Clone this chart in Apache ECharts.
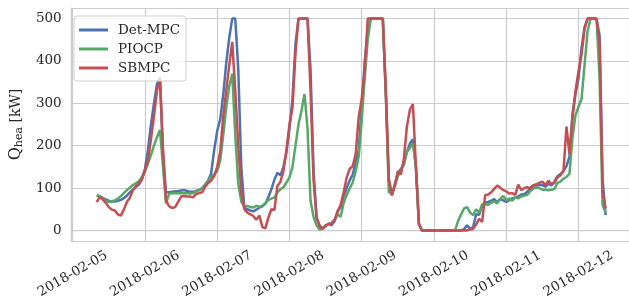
<!DOCTYPE html>
<html>
<head>
<meta charset="utf-8">
<script src="https://cdn.jsdelivr.net/npm/echarts@6/dist/echarts.min.js"></script>
<style>
html, body { margin: 0; padding: 0; background: #fff; }
#chart { width: 629px; height: 305px; }
</style>
</head>
<body>
<div id="chart"></div>
<script>
// hourly samples, the first one is 2018-02-05 08:00
const seriesNames = ['Det-MPC', 'PIOCP', 'SBMPC'];
const seriesColors = ['#4C72B0', '#55A868', '#C44E52'];

const detMpc = [
  83, 80, 77, 73, 70, 68, 68, 70, 72, 76,
  82, 90, 96, 103, 108,
  120, 145, 190, 250, 300, 345, 362, 180, 90,
  90, 91, 92, 93, 94,
  95, 93, 91, 91, 93, 95, 100, 108, 118, 135, 190,
  235, 262, 320, 395, 455, 500, 500, 380, 150, 55,
  50, 47, 45, 49, 54, 57, 63, 79, 97,
  120, 136, 130, 150, 185, 240, 310, 440, 500, 500, 500,
  500, 380, 140, 30, 12, 5, 10, 16, 12, 22,
  45, 55, 80, 100, 118, 132, 160, 190,
  290, 400, 470, 500, 500, 500, 500, 500, 330, 120,
  83, 110, 135, 145, 155, 185, 205, 215, 150, 15,
  0, 0, 0, 0, 0, 0, 0, 0, 0, 0, 0, 0, 0, 0,
  3, 12, 4, 8, 38, 37, 58, 66, 67, 70,
  74, 67, 74, 71, 67, 71, 76, 77, 80, 85, 86, 91, 101, 106, 106,
  107, 107, 103, 110, 106, 115, 128, 133, 140, 152, 174, 275, 322, 360, 430, 480, 500, 500, 500, 498, 460, 120, 36
];

const piocp = [
  83, 81, 75, 70, 67, 69, 71, 75, 81, 88,
  95, 101, 107, 111, 116,
  126, 138, 158, 178, 200, 220, 237, 150, 64,
  86, 88, 88, 88, 88,
  88, 88, 87, 88, 92, 96, 99, 106, 116, 126, 132,
  140, 165, 225, 290, 340, 370, 225, 110, 68, 56,
  58, 55, 54, 58, 56, 58, 64, 72, 75,
  78, 90, 97, 102, 113, 125, 150, 200, 250, 283, 322,
  240, 70, 32, 12, 2, 4, 10, 16, 17, 25,
  38, 32, 65, 83, 99, 113, 140, 175,
  260, 360, 450, 500, 500, 500, 500, 500, 320, 90,
  88, 105, 128, 140, 160, 185, 195, 205, 150, 15,
  0, 0, 0, 0, 0, 0, 0, 0, 0, 0, 0, 0,
  22, 38, 52, 55, 42, 36, 50, 42, 62, 62, 60, 66, 68, 64, 75, 81, 71, 75, 70, 78, 76, 80, 82, 84, 93, 99, 101,
  100, 96, 96, 95, 96, 98, 112, 115, 122, 126, 134, 220, 272, 292, 310, 390, 470, 500, 500, 500, 360, 60, 43
];

const sbmpc = [
  67, 79, 73, 65, 55, 49, 47, 38, 35, 49,
  67, 77, 95, 104, 112,
  122, 142, 165, 215, 270, 330, 355, 190, 71,
  57, 53, 55, 67, 80,
  81, 80, 80, 78, 86, 88, 90, 103, 112, 118, 128,
  150, 185, 270, 330, 390, 445, 330, 200, 90, 50,
  42, 38, 34, 25, 35, 8, 5, 30, 50,
  48, 105, 115, 140, 190, 250, 290, 420, 500, 500, 500,
  500, 330, 120, 30, 10, 4, 12, 15, 16, 25,
  45, 60, 90, 125, 145, 152, 180, 268,
  310, 380, 500, 500, 500, 500, 500, 500, 330, 120,
  83, 105, 140, 132, 170, 245, 285, 298, 150, 15,
  0, 0, 0, 0, 0, 0, 0, 0, 0, 0, 0, 0, 0, 0, 0, 0,
  2, 4, 14, 27, 20, 83, 85, 90, 98, 106, 101, 95, 92, 87, 88, 84, 108, 95, 100, 102, 98, 106, 109,
  112, 115, 107, 117, 110, 112, 125, 130, 140, 245, 180, 265, 330, 375, 415, 475, 500, 500, 500, 500, 440, 90, 52
];

const yTicks = [0, 100, 200, 300, 400, 500];

const startTime = new Date(2018, 1, 5, 8).getTime();
const hour = 3600 * 1000;
const toPoints = vals => vals.map((v, i) => [startTime + i * hour, v]);

const font = 'DejaVu Serif';
const textColor = '#262626';
const gridColor = '#cccccc';

function pad(n) { return n < 10 ? '0' + n : '' + n; }
function dayLabel(v) {
  const d = new Date(v);
  return d.getFullYear() + '-' + pad(d.getMonth() + 1) + '-' + pad(d.getDate());
}

const chart = echarts.init(document.getElementById('chart'));
chart.setOption({
  animation: false,
  backgroundColor: '#fff',
  grid: { left: 68, right: -2, top: 8, bottom: 64 },
  legend: {
    orient: 'vertical',
    left: 74,
    top: 16,
    padding: [7, 6, 6, 5],
    icon: 'rect',
    itemWidth: 29,
    itemHeight: 3,
    itemGap: 5,
    backgroundColor: 'rgba(255,255,255,0.8)',
    borderColor: '#d0d0d0',
    borderWidth: 1,
    borderRadius: 3,
    textStyle: { fontFamily: font, fontSize: 13.5, color: textColor, padding: [0, 0, 0, 5] },
    data: seriesNames
  },
  xAxis: {
    type: 'time',
    min: new Date(2018, 1, 4, 23, 40).getTime(),
    max: new Date(2018, 1, 12, 16, 46).getTime(),
    minInterval: 24 * hour,
    maxInterval: 24 * hour,
    axisLine: { lineStyle: { color: gridColor, width: 1.25 } },
    axisTick: { show: false },
    splitLine: { show: true, lineStyle: { color: gridColor, width: 1.2 } },
    axisLabel: {
      formatter: dayLabel,
      rotate: 30,
      align: 'center',
      verticalAlign: 'middle',
      margin: 33,
      fontFamily: font,
      fontSize: 13.5,
      color: textColor
    }
  },
  yAxis: {
    type: 'value',
    min: -25,
    max: 525,
    splitNumber: 5,
    name: '{q|Q}{s|hea}{t| [kW]}',
    nameLocation: 'middle',
    nameRotate: 90,
    nameGap: 40,
    nameTextStyle: {
      color: textColor,
      fontFamily: font,
      rich: {
        q: { fontFamily: font, fontSize: 16, lineHeight: 18, color: textColor },
        s: { fontFamily: font, fontSize: 11, lineHeight: 5, verticalAlign: 'bottom', color: textColor },
        t: { fontFamily: font, fontSize: 14, lineHeight: 18, color: textColor }
      }
    },
    axisLine: { show: true, lineStyle: { color: gridColor, width: 1.25 } },
    axisTick: { show: false },
    splitLine: { lineStyle: { color: gridColor, width: 1.2 } },
    axisLabel: {
      formatter: v => (yTicks.includes(v) ? String(v) : ''),
      margin: 10,
      fontFamily: font,
      fontSize: 13.5,
      color: textColor
    }
  },
  series: [detMpc, piocp, sbmpc].map((vals, i) => ({
    name: seriesNames[i],
    type: 'line',
    symbol: 'none',
    showSymbol: false,
    color: seriesColors[i],
    lineStyle: { width: 2.5, color: seriesColors[i] },
    data: toPoints(vals)
  }))
});
</script>
</body>
</html>
